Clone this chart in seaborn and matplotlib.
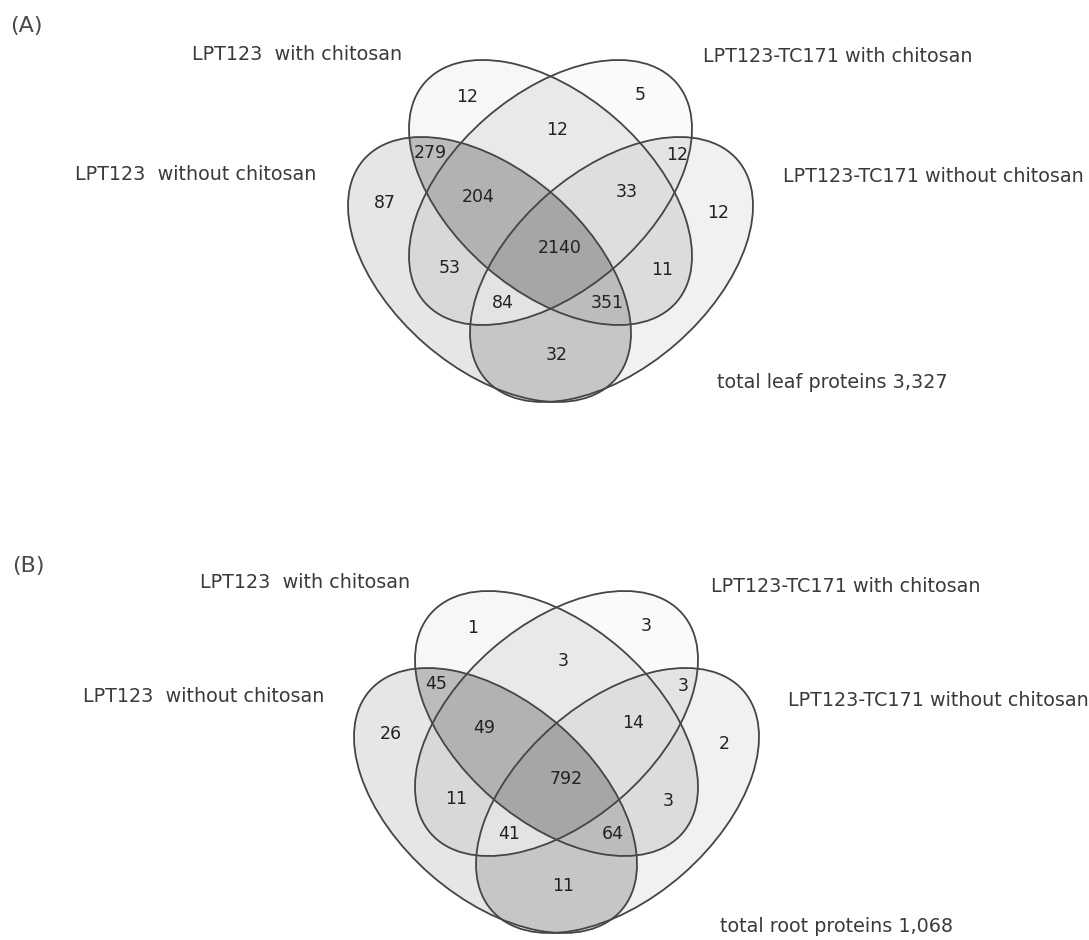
import numpy as np
import matplotlib
matplotlib.use("Agg")
import matplotlib.pyplot as plt
from matplotlib.patches import Ellipse, Polygon
import seaborn as sns

# ---------------------------------------------------------------- data
SET_NAMES = [
    "LPT123  without chitosan",
    "LPT123  with chitosan",
    "LPT123-TC171 with chitosan",
    "LPT123-TC171 without chitosan",
]
# membership of each Venn region (indices into SET_NAMES)
REGIONS = [(0,), (1,), (2,), (3,),
           (0, 1), (1, 2), (2, 3), (0, 2), (1, 3), (0, 3),
           (0, 1, 2), (1, 2, 3), (0, 2, 3), (0, 1, 3),
           (0, 1, 2, 3)]
LEAF_COUNTS = [87, 12, 5, 12, 279, 12, 12, 53, 11, 32, 204, 33, 84, 351, 2140]
ROOT_COUNTS = [26, 1, 3, 2, 45, 3, 3, 11, 3, 11, 49, 14, 41, 64, 792]
PANEL_TAGS = ["(A)", "(B)"]
TOTAL_NAMES = ["total leaf proteins", "total root proteins"]

# ---------------------------------------------------------------- layout / style
W_PX, H_PX = 1089, 940
ELL_A, ELL_B, ELL_ANG = 167.0, 98.5, 41.1
ELL_OFFSETS = [(-61.0, 38.5), (0.0, -38.5), (0.0, -38.5), (61.0, 38.5)]
ELL_ANGLES = [ELL_ANG, ELL_ANG, -ELL_ANG, -ELL_ANG]
PANEL_CENTERS = [(550.5, 231.0), (556.5, 762.0)]

# grey level of each region fill (same order as REGIONS)
REGION_GREYS = [230, 247, 250, 241, 188, 233, 228, 216, 220, 198,
                178, 222, 227, 188, 166]
# number anchors relative to the panel centre
REGION_TEXT_POS = [(-165.5, -28), (-83.5, -134), (89.5, -136), (167.5, -18),
                   (-120.5, -78), (6.5, -101), (126.5, -76), (-100.5, 37),
                   (111.5, 39), (6.5, 124), (-72.5, -34), (76.5, -39),
                   (-47.5, 72), (56.5, 72), (9.5, 17)]
# set-name anchors (left x, centre y) per panel, in SET_NAMES order
SET_TEXT_POS = [
    [(75, 175), (192, 55), (703, 57), (783, 176)],
    [(83, 697), (200, 583), (711, 587), (788, 700)],
]
TOTAL_TEXT_POS = [(717, 383), (720, 927)]
TAG_TEXT_POS = [(10, 26), (12, 566)]

EDGE = "#454545"
TEXT = "#3a3a3a"
NUM = "#222222"


def ellipse_points(cx, cy, ang_deg, n=2400):
    t = np.linspace(0, 2 * np.pi, n, endpoint=False)
    c, s = np.cos(np.radians(ang_deg)), np.sin(np.radians(ang_deg))
    x = cx + ELL_A * np.cos(t) * c - ELL_B * np.sin(t) * s
    y = cy + ELL_A * np.cos(t) * s + ELL_B * np.sin(t) * c
    return np.column_stack([x, y])


def inside(pts, cx, cy, ang_deg, tol=1e-9):
    c, s = np.cos(np.radians(ang_deg)), np.sin(np.radians(ang_deg))
    dx, dy = pts[:, 0] - cx, pts[:, 1] - cy
    u = dx * c + dy * s
    v = -dx * s + dy * c
    return (u / ELL_A) ** 2 + (v / ELL_B) ** 2 <= 1 + tol


def intersection_polygon(ells):
    """Boundary of the (convex) intersection of several ellipses."""
    pts = []
    for i, (cx, cy, ang) in enumerate(ells):
        p = ellipse_points(cx, cy, ang)
        keep = np.ones(len(p), bool)
        for j, (ox, oy, oang) in enumerate(ells):
            if j != i:
                keep &= inside(p, ox, oy, oang, tol=1e-6)
        pts.append(p[keep])
    pts = np.vstack(pts)
    centre = pts.mean(axis=0)
    order = np.argsort(np.arctan2(pts[:, 1] - centre[1], pts[:, 0] - centre[0]))
    return pts[order]


def draw_panel(ax, k, counts):
    pcx, pcy = PANEL_CENTERS[k]
    ells = [(pcx + ox, pcy + oy, ang) for (ox, oy), ang in zip(ELL_OFFSETS, ELL_ANGLES)]

    # fills: painting each intersection in order of set count leaves
    # every region with its own grey
    order = sorted(range(len(REGIONS)), key=lambda r: len(REGIONS[r]))
    for r in order:
        members = [ells[i] for i in REGIONS[r]]
        g = REGION_GREYS[r] / 255.0
        poly = intersection_polygon(members)
        ax.add_patch(Polygon(poly, closed=True, facecolor=(g, g, g),
                             edgecolor="none", zorder=1))

    for cx, cy, ang in ells:
        ax.add_patch(Ellipse((cx, cy), 2 * ELL_A, 2 * ELL_B, angle=ang,
                             fill=False, edgecolor=EDGE, linewidth=1.3, zorder=3))

    for r, val in enumerate(counts):
        dx, dy = REGION_TEXT_POS[r]
        ax.text(pcx + dx, pcy + dy, f"{val}", ha="center", va="center",
                fontsize=12.5, color=NUM, zorder=4)

    for i, name in enumerate(SET_NAMES):
        x, y = SET_TEXT_POS[k][i]
        ax.text(x, y, name, ha="left", va="center", fontsize=13.8,
                color=TEXT, zorder=4)

    tx, ty = TOTAL_TEXT_POS[k]
    ax.text(tx, ty, f"{TOTAL_NAMES[k]} {sum(counts):,}", ha="left",
            va="center", fontsize=13.8, color=TEXT, zorder=4)
    gx, gy = TAG_TEXT_POS[k]
    ax.text(gx, gy, PANEL_TAGS[k], ha="left", va="center", fontsize=16,
            color="#4a4a4a", zorder=4)


sns.set_theme(style="white")
plt.rcParams["font.family"] = ["DejaVu Sans"]

fig = plt.figure(figsize=(W_PX / 100, H_PX / 100), dpi=100)
fig.patch.set_facecolor("white")
ax = fig.add_axes([0, 0, 1, 1])
ax.set_xlim(0, W_PX)
ax.set_ylim(H_PX, 0)
ax.axis("off")

draw_panel(ax, 0, LEAF_COUNTS)
draw_panel(ax, 1, ROOT_COUNTS)

fig.savefig("out.png", dpi=100, facecolor="white")
